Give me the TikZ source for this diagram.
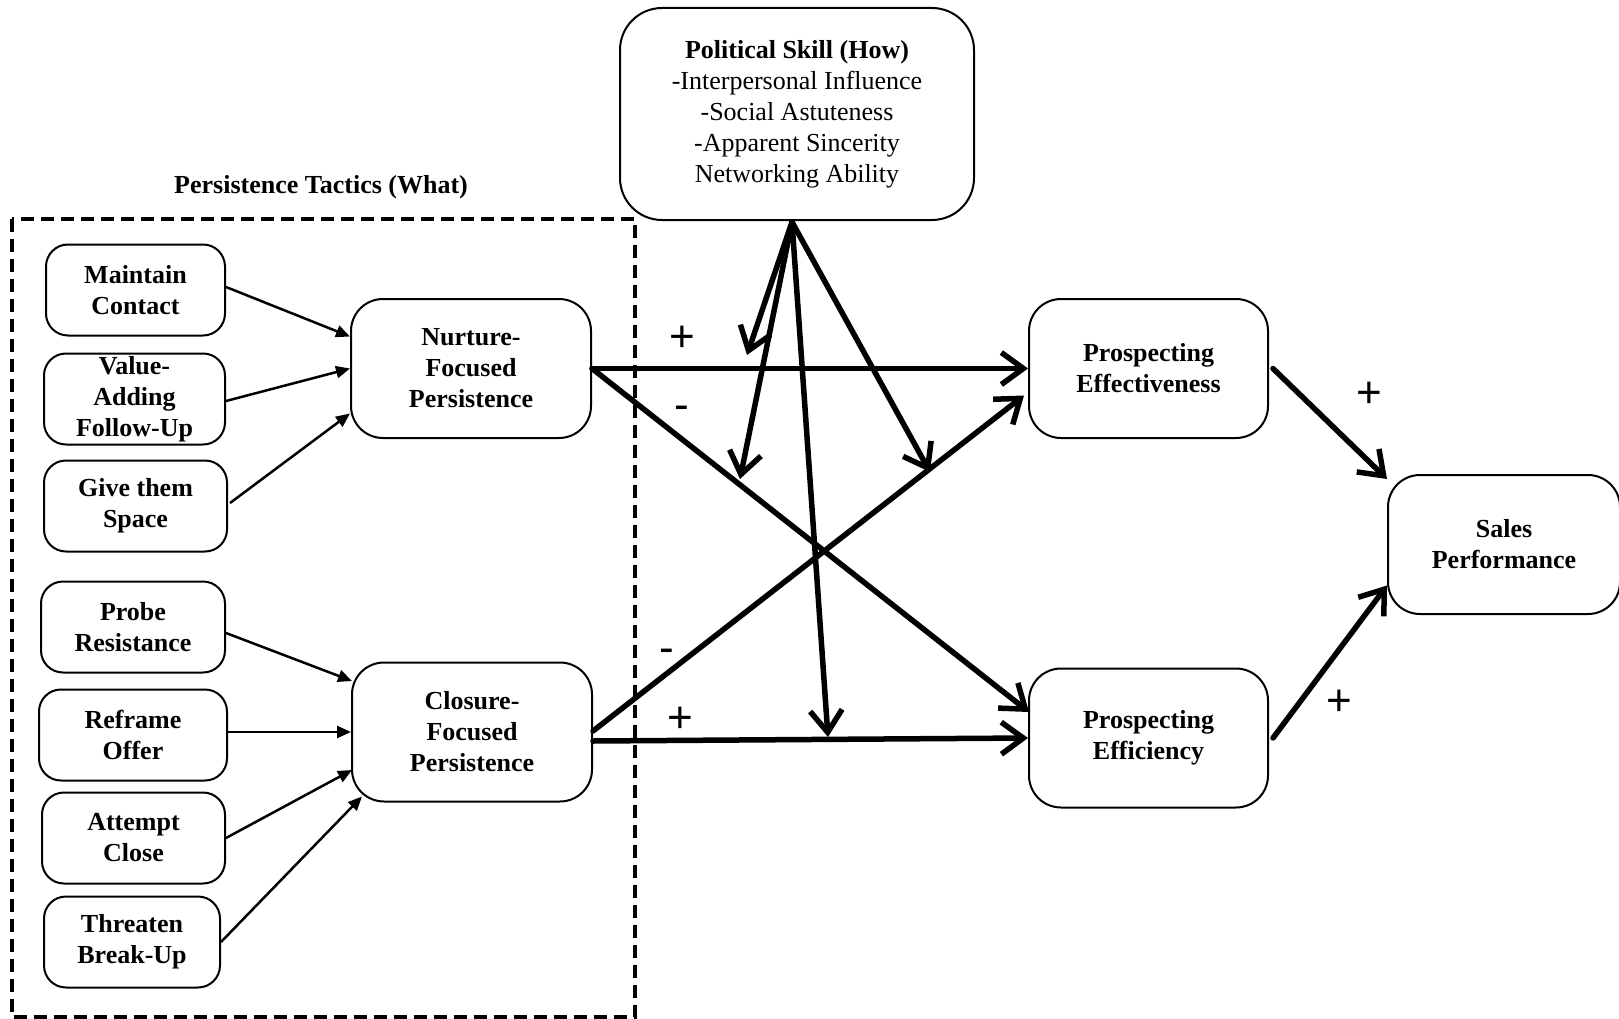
\documentclass[tikz,border=0pt]{standalone}
\usepackage{fontspec}
\setmainfont{Liberation Serif}
\newfontfamily\signfont{Liberation Sans}
\usetikzlibrary{arrows.meta,calc}
\begin{document}
\begin{tikzpicture}[x=1pt,y=-1pt,
  box/.style={draw,line width=2pt,rounded corners=22pt,align=center,inner sep=0pt,font=\bfseries\fontsize{26}{31}\selectfont,execute at begin node={\\[-7pt]}},
  smallbox/.style={box,minimum height=91pt},
  bigbox/.style={box,rounded corners=32pt,minimum width=240pt,minimum height=139pt},
  thinarr/.style={line width=2.5pt,-{Triangle[length=14pt,width=12pt]}},
  strong/.style={line width=5.5pt,line cap=round,-{Straight Barb[length=22pt,width=32pt]}},
  sign/.style={font=\signfont\fontsize{44}{44}\selectfont,inner sep=0pt}
]
\useasboundingbox (0,0) rectangle (1619,1019);

% dashed frame
\draw[line width=4pt,dash pattern=on 13pt off 7pt] (12,219) rectangle (635,1017);
\node[font=\bfseries\fontsize{26}{31}\selectfont] (ptl) at (321,187) {Persistence Tactics (What)};

% small boxes
\node[smallbox,minimum width=179pt] (mc) at (135.5,290) {Maintain\\Contact};
\node[smallbox,minimum width=181pt] (va) at (134.5,399) {Value-\\Adding\\Follow-Up};
\node[smallbox,minimum width=183pt] (gs) at (135.5,506) {Give them\\Space};
\node[smallbox,minimum width=184pt] (pr) at (133,627) {Probe\\Resistance};
\node[smallbox,minimum width=188pt] (ro) at (133,735) {Reframe\\Offer};
\node[smallbox,minimum width=183pt] (ac) at (133.5,838) {Attempt\\Close};
\node[smallbox,minimum width=176pt] (tb) at (132,942) {Threaten\\Break-Up};

% big boxes
\node[bigbox] (nur) at (471,368.5) {Nurture-\\Focused\\Persistence};
\node[bigbox] (clo) at (472,732) {Closure-\\Focused\\Persistence};
\node[bigbox,minimum width=239pt] (pe) at (1148.5,368.5) {Prospecting\\Effectiveness};
\node[bigbox,minimum width=239pt] (pf) at (1148.5,738) {Prospecting\\Efficiency};
\node[bigbox,minimum width=232pt] (sp) at (1504,544.5) {Sales\\Performance};

% political skill
\node[box,rounded corners=42pt,minimum width=354pt,minimum height=212pt,font=\fontsize{26}{31}\selectfont] (pol) at (797,114)
  {\textbf{Political Skill (How)}\\-Interpersonal Influence\\-Social Astuteness\\-Apparent Sincerity\\Networking Ability};

% thin arrows
\draw[thinarr] ($(mc.east)+(0,-3)$) -- ($(nur.west)+(0,-32)$);
\draw[thinarr] ($(va.east)+(0,2)$) -- (nur.west);
\draw[thinarr] ($(gs.east)+(2,-3)$) -- ($(nur.west)+(0,45)$);
\draw[thinarr] ($(pr.east)+(0,6)$) -- ($(clo.west)+(1,-51)$);
\draw[thinarr] ($(ro.east)+(0,-3)$) -- (clo.west);
\draw[thinarr] (ac.east) -- ($(clo.west)+(1,38)$);
\draw[thinarr] (tb.east) -- ($(clo.south west)+(11,-6)$);

% main thick arrows
\draw[strong] (nur.east) -- (pe.west);
\draw[strong] (nur.east) -- ($(pf.west)+(1,-26)$);
\draw[strong] ($(clo.east)+(0,-1)$) -- ($(pe.west)+(-4,27)$);
\draw[strong] ($(clo.east)+(0,9)$) -- (pf.west);
\draw[strong] ($(pe.east)+(4,0)$) -- ($(sp.north west)+(0,5)$);
\draw[strong] ($(pf.east)+(4,0)$) -- ($(sp.west)+(0,41)$);

% moderation arrows
\coordinate (ms) at ($(pol.south)+(-5,1)$);
\coordinate (mA) at (747,355);
\coordinate (mB) at (740,479);
\coordinate (mC) at (930,472);
\coordinate (mD) at (828,737);
\draw[strong] (ms) -- (mA);
\draw[strong] (ms) -- (mB);
\draw[strong] (ms) -- (mC);
\draw[strong] (ms) -- (mD);

% signs
\node[sign] (s1) at (682,339) {+};
\node[sign] (s2) at (682,413) {-};
\node[sign] (s3) at (667,656) {-};
\node[sign] (s4) at (680,720) {+};
\node[sign] (s5) at (1369,395) {+};
\node[sign] (s6) at (1339,703) {+};
\end{tikzpicture}
\end{document}
